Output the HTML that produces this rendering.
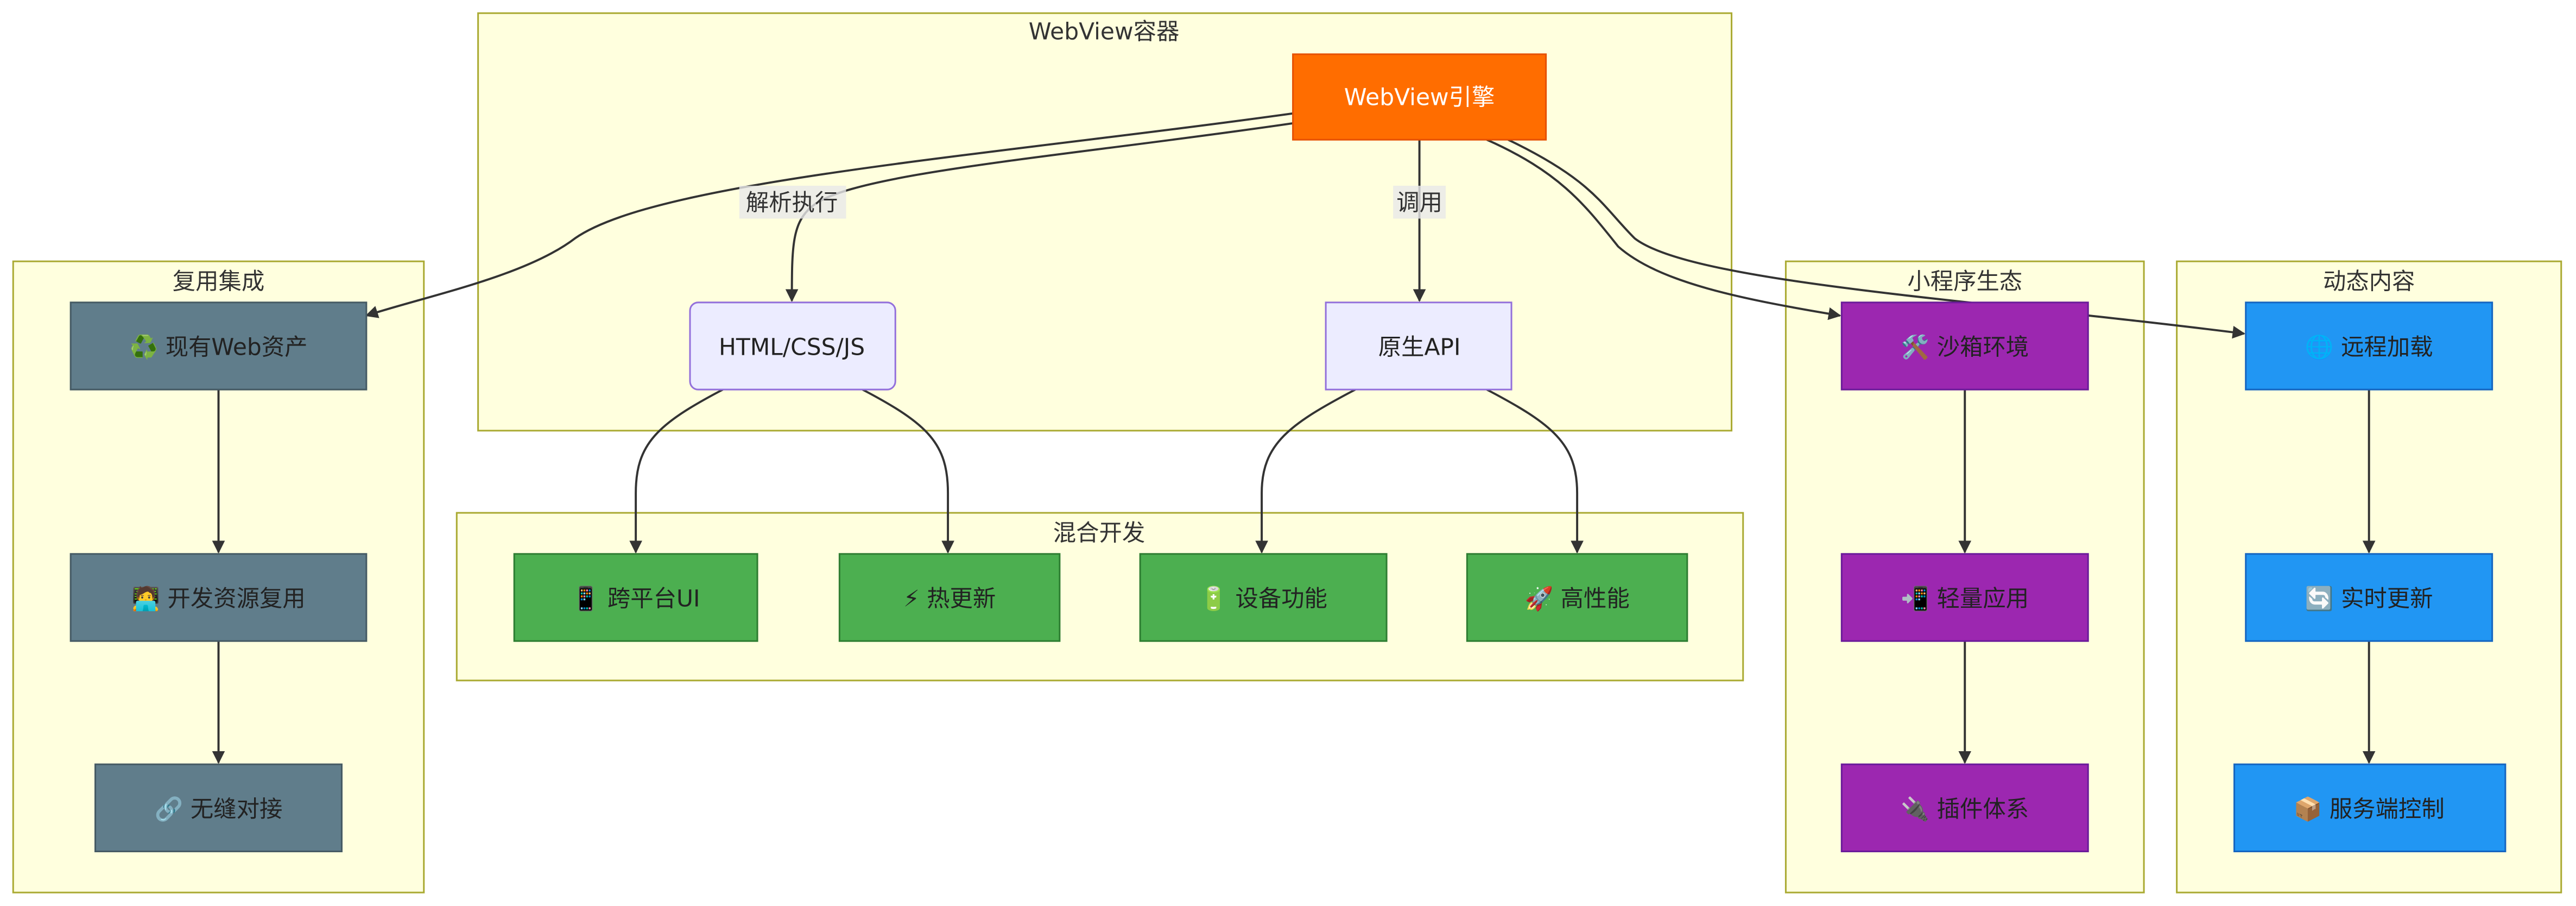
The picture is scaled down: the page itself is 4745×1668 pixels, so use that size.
<!DOCTYPE html>
<html><head><meta charset="utf-8"><style>
html,body{margin:0;padding:0;background:#fff;}
svg{display:block;}
text{font-family:"DejaVu Sans","Noto Sans CJK SC",sans-serif;}
</style></head><body>
<svg width="4745" height="1668" viewBox="0 0 1568 551.2" xmlns="http://www.w3.org/2000/svg">
<defs><marker id="a" viewBox="0 0 10 10" refX="9" refY="5" markerWidth="6" markerHeight="6" orient="auto"><path d="M0,0L10,5L0,10z" fill="#333"/></marker></defs>
<g fill="#ffffde" stroke="#aaaa33" stroke-width="1">
<rect x="291" y="8" width="763" height="254"/>
<rect x="8" y="159" width="250" height="384"/>
<rect x="278" y="312" width="783" height="102"/>
<rect x="1087" y="159" width="218" height="384"/>
<rect x="1325" y="159" width="234" height="384"/>
</g>
<g font-size="14" fill="#333" text-anchor="middle">
<text x="672" y="24">WebView容器</text>
<text x="133" y="176">复用集成</text>
<text x="669" y="329">混合开发</text>
<text x="1196" y="176">小程序生态</text>
<text x="1442" y="176">动态内容</text>
</g>
<g fill="none" stroke="#333" stroke-width="1.3" marker-end="url(#a)">
<path d="M787,69 C600,95 400,110 350,145 C320,168 260,180 223,192"/>
<path d="M787,75 C650,95 520,105 495,125 C482,135 482,150 482,183"/>
<path d="M864,85 L864,183"/>
<path d="M905,85 C950,105 965,125 985,150 C1010,172 1060,182 1120,192"/>
<path d="M918,85 C970,110 975,125 995,145 C1030,172 1200,182 1366,203"/>
<path d="M440,237 C400,258 387,270 387,300 L387,336"/>
<path d="M525,237 C565,258 577,270 577,300 L577,336"/>
<path d="M825,237 C785,258 768,270 768,300 L768,336"/>
<path d="M905,237 C945,258 960,270 960,300 L960,336"/>
<path d="M133,237 L133,336"/><path d="M133,390 L133,464"/>
<path d="M1196,237 L1196,336"/><path d="M1196,390 L1196,464"/>
<path d="M1442,237 L1442,336"/><path d="M1442,390 L1442,464"/>
</g>
<g font-size="14" fill="#333" text-anchor="middle">
<rect x="450" y="113" width="65" height="20" fill="#e8e8e8" opacity="0.8"/><text x="482" y="128">解析执行</text>
<rect x="848" y="113" width="32" height="20" fill="#e8e8e8" opacity="0.8"/><text x="864" y="128">调用</text>
</g>
<rect x="787" y="33" width="154" height="52" fill="#FF6D00" stroke="#E65100"/>
<text x="864" y="64" font-size="14" fill="#fff" text-anchor="middle">WebView引擎</text>
<g fill="#ECECFF" stroke="#9370DB"><rect x="420" y="184" width="125" height="53" rx="5"/><rect x="807" y="184" width="113" height="53"/></g>
<g stroke-width="1">
<g fill="#607D8B" stroke="#455A64"><rect x="43" y="184" width="180" height="53"/><rect x="43" y="337" width="180" height="53"/><rect x="58" y="465" width="150" height="53"/></g>
<g fill="#4CAF50" stroke="#2E7D32"><rect x="313" y="337" width="148" height="53"/><rect x="511" y="337" width="134" height="53"/><rect x="694" y="337" width="150" height="53"/><rect x="893" y="337" width="134" height="53"/></g>
<g fill="#9C27B0" stroke="#6A1B9A"><rect x="1121" y="184" width="150" height="53"/><rect x="1121" y="337" width="150" height="53"/><rect x="1121" y="465" width="150" height="53"/></g>
<g fill="#2196F3" stroke="#1565C0"><rect x="1367" y="184" width="150" height="53"/><rect x="1367" y="337" width="150" height="53"/><rect x="1360" y="465" width="165" height="53"/></g>
</g>
<g font-size="14" fill="#222" text-anchor="middle">
<text x="482" y="216">HTML/CSS/JS</text><text x="864" y="216">原生API</text>
<text x="133" y="216">♻️ 现有Web资产</text><text x="133" y="369">🧑‍💻 开发资源复用</text><text x="133" y="497">🔗 无缝对接</text>
<text x="387" y="369">📱 跨平台UI</text><text x="578" y="369">⚡ 热更新</text><text x="769" y="369">🔋 设备功能</text><text x="960" y="369">🚀 高性能</text>
<text x="1196" y="216">🛠️ 沙箱环境</text><text x="1196" y="369">📲 轻量应用</text><text x="1196" y="497">🔌 插件体系</text>
<text x="1442" y="216">🌐 远程加载</text><text x="1442" y="369">🔄 实时更新</text><text x="1442" y="497">📦 服务端控制</text>
</g>
</svg>
</body></html>
